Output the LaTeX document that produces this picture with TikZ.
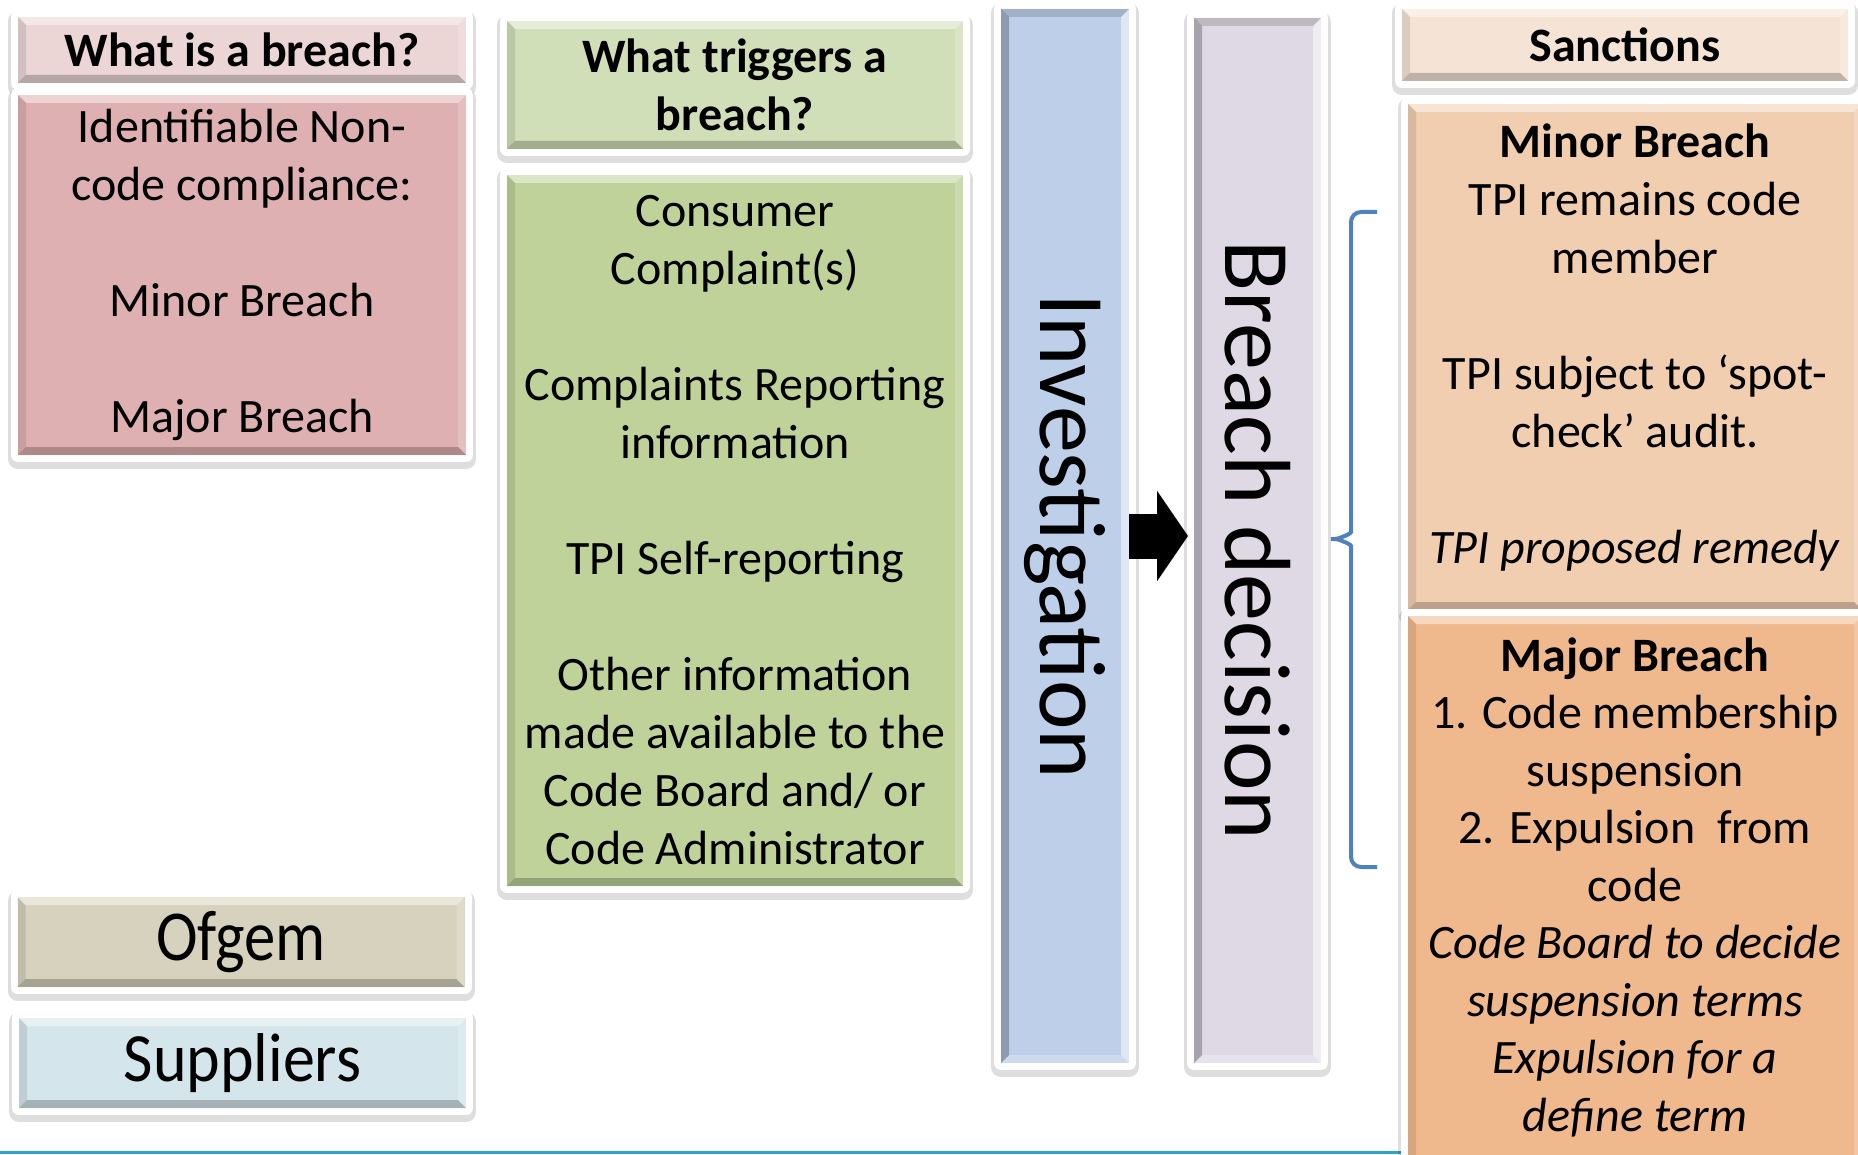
\documentclass[tikz,border=0pt]{standalone}
\usepackage{fontspec}
\setmainfont{Carlito}
\usepackage{graphicx}
\usetikzlibrary{arrows.meta}

\definecolor{pinklight}{HTML}{EBD5D5}
\definecolor{pinkdark}{HTML}{DFB0B1}
\definecolor{greenlight}{HTML}{D1DFB9}
\definecolor{greendark}{HTML}{BFD29A}
\definecolor{bluebar}{HTML}{BED0E9}
\definecolor{lilacbar}{HTML}{DFD9E5}
\definecolor{peachlight}{HTML}{F5E4D6}
\definecolor{peachmid}{HTML}{F2CEB1}
\definecolor{peachdark}{HTML}{F0B98D}
\definecolor{stone}{HTML}{D7D2BD}
\definecolor{skyblue}{HTML}{D4E6EC}
\definecolor{bracketblue}{HTML}{4F81BD}
\definecolor{ruleblue}{HTML}{2FA3CC}

\begin{document}
\begin{tikzpicture}[x=0.5pt,y=-0.5pt]

\tikzset{box/.style = {rectangle,fill=#1,outer sep=0pt,inner sep=0pt,align=center,
  font=\fontsize{24}{29}\selectfont,
  preaction={draw=black,opacity=.13,line width=10pt,line join=round,transform canvas={yshift=-2pt}},
  preaction={draw=white,line width=7pt,line join=round}}}
\tikzset{bevel/.style n args={4}{path picture={
  \path (path picture bounding box.north west) coordinate (bnw)
        (path picture bounding box.north east) coordinate (bne)
        (path picture bounding box.south east) coordinate (bse)
        (path picture bounding box.south west) coordinate (bsw);
  \fill[#1] (bnw) -- (bne) -- ([shift={(-4pt,-4pt)}]bne) -- ([shift={(4pt,-4pt)}]bnw) -- cycle;
  \fill[#2] (bne) -- (bse) -- ([shift={(-4pt,4pt)}]bse) -- ([shift={(-4pt,-4pt)}]bne) -- cycle;
  \fill[#3] (bse) -- (bsw) -- ([shift={(4pt,4pt)}]bsw) -- ([shift={(-4pt,4pt)}]bse) -- cycle;
  \fill[#4] (bsw) -- (bnw) -- ([shift={(4pt,-4pt)}]bnw) -- ([shift={(4pt,4pt)}]bsw) -- cycle;}}}
\tikzset{hbox/.style = {box=#1,bevel={white,opacity=.45}{white,opacity=.2}{black,opacity=.22}{black,opacity=.1}}}
\tikzset{vbox/.style = {box=#1,bevel={black,opacity=.15}{white,opacity=.5}{white,opacity=.25}{black,opacity=.25}}}
\tikzset{headfont/.style = {font=\fontsize{24}{29}\selectfont\bfseries}}
\tikzset{tall/.style = {font=\fontsize{47}{56}\selectfont}}
\tikzset{big/.style = {font=\fontsize{32}{38}\selectfont}}
\tikzset{push/.style = {line width=22.5pt,-{Triangle[length=15.5pt,width=44.5pt]}}}
\tikzset{bracket/.style = {draw=bracketblue,line width=2pt,rounded corners=5pt}}
\tikzset{rule/.style = {draw=ruleblue,line width=1.5pt}}

\useasboundingbox (0,0) rectangle (1858,1155);

\node[hbox=pinklight,headfont,minimum width=224pt,minimum height=33pt] (what) at (242,50) {What is a breach?};
\node[hbox=pinkdark,minimum width=224pt,minimum height=180pt] (kinds) at (242,275)
  {Identifiable Non-\\code compliance:\\[29pt]Minor Breach\\[29pt]Major Breach};
\node[hbox=greenlight,headfont,minimum width=228pt,minimum height=64pt] (trig) at (735,85) {What triggers a\\breach?};
\node[hbox=greendark,minimum width=228pt,minimum height=355.5pt] (src) at (735,530.5)
  {Consumer\\Complaint(s)\\[29pt]Complaints Reporting\\information\\[29pt]TPI Self-reporting\\[29pt]Other information\\made available to the\\Code Board and/ or\\Code Administrator};
\node[vbox=bluebar,tall,minimum width=64pt,minimum height=527pt] (inv) at (1065,536) {\rotatebox{-90}{Investigation}};
\node[vbox=lilacbar,tall,minimum width=63.5pt,minimum height=522.5pt] (dec) at (1257.5,540.5) {\rotatebox{-90}{Breach decision}};
%edges
\draw[push,shorten >=3pt] (inv.east) -- (dec.west |- inv.east);
\draw[bracket] (1377,867) -- (1351,867) -- (1351,556) .. controls (1351,544) and (1338,539) .. (1325,539)
  .. controls (1338,539) and (1351,534) .. (1351,522) -- (1351,212) -- (1377,212);
\draw[rule] (0,1152) -- (1408,1152);

\node[hbox=peachlight,headfont,minimum width=223pt,minimum height=36pt] (sanc) at (1625,45) {Sanctions};
% empty last line lifts the text a little
\node[hbox=peachmid,minimum width=227pt,minimum height=253pt] (minor) at (1635,357)
  {\textbf{Minor Breach}\\TPI remains code\\member\\[29pt]TPI subject to ‘spot-\\check’ audit.\\[29pt]\textit{TPI proposed remedy}\\[-16pt]\mbox{}};
\node[hbox=peachdark,font=\fontsize{24}{28.75}\selectfont,minimum width=227pt,minimum height=277pt] (major) at (1635,893)
  {\textbf{Major Breach}\\1. Code membership\\suspension\\2. Expulsion\ \ from\\code\\\textit{Code Board to decide}\\\textit{suspension terms}\\\textit{Expulsion for a}\\\textit{define term}\\[-20pt]\mbox{}};

\node[hbox=stone,big,minimum width=223.5pt,minimum height=45pt] (ofgem) at (241,942) {\scalebox{0.98}[1.12]{Ofgem}};
\node[hbox=skyblue,big,minimum width=223.5pt,minimum height=45pt] (supp) at (242.5,1063) {\scalebox{1}[1.08]{Suppliers}};

\end{tikzpicture}
\end{document}
